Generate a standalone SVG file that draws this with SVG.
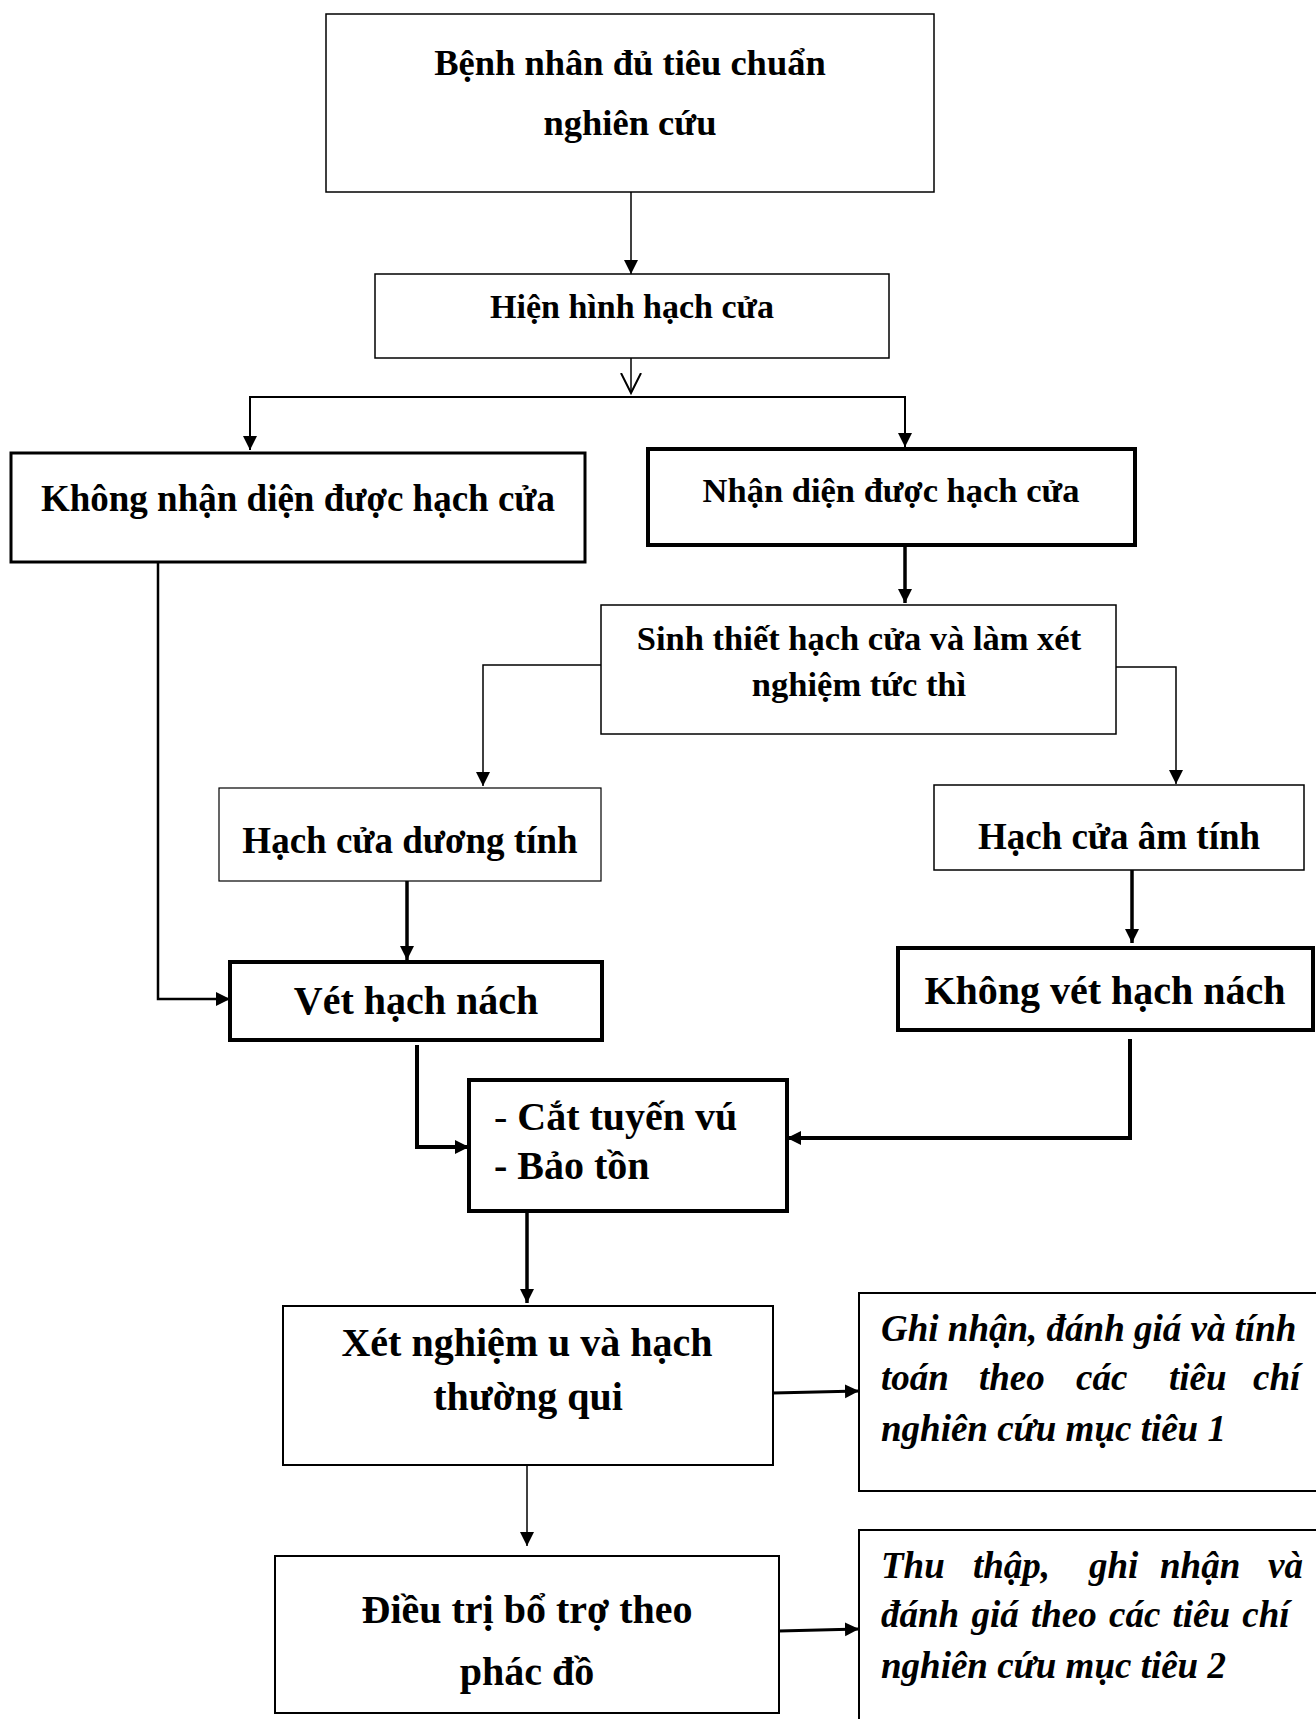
<svg xmlns="http://www.w3.org/2000/svg" width="1316" height="1719" viewBox="0 0 1316 1719">
<style>
.b{fill:#fff;stroke:#000}
.t{font-family:"Liberation Serif","Times New Roman",serif;font-weight:bold;fill:#000}
.i{font-style:italic}
.c{text-anchor:middle}
.l{fill:none;stroke:#000}
</style>
<defs>
<marker id="ah" markerUnits="userSpaceOnUse" markerWidth="16" markerHeight="16" refX="14" refY="7" orient="auto" viewBox="0 0 16 14"><path d="M0,0 L14,7 L0,14 Z" fill="#000"/></marker>
<marker id="ao" markerUnits="userSpaceOnUse" markerWidth="24" markerHeight="24" refX="20" refY="10" orient="auto" viewBox="0 0 24 20"><path d="M0,0 L20,10 L0,20" fill="none" stroke="#000" stroke-width="2"/></marker>
</defs>
<g id="connectors">
<line class="l" x1="631" y1="192" x2="631" y2="274" stroke-width="1.5" marker-end="url(#ah)"/>
<line class="l" x1="631" y1="358" x2="631" y2="393" stroke-width="1.5" marker-end="url(#ao)"/>
<path class="l" d="M250,450 V397 H905 V447" stroke-width="2" marker-end="url(#ah)"/>
<path class="l" d="M250,397 V450" stroke-width="2" marker-end="url(#ah)"/>
<line class="l" x1="905" y1="545" x2="905" y2="603" stroke-width="3.5" marker-end="url(#ah)"/>
<path class="l" d="M601,665 H483 V786" stroke-width="1.5" marker-end="url(#ah)"/>
<path class="l" d="M1116,667 H1176 V784" stroke-width="1.5" marker-end="url(#ah)"/>
<line class="l" x1="407" y1="881" x2="407" y2="960" stroke-width="3.5" marker-end="url(#ah)"/>
<line class="l" x1="1132" y1="870" x2="1132" y2="943" stroke-width="3.5" marker-end="url(#ah)"/>
<path class="l" d="M158,562 V999 H230" stroke-width="2.5" marker-end="url(#ah)"/>
<path class="l" d="M417,1045 V1147 H469" stroke-width="4" marker-end="url(#ah)"/>
<path class="l" d="M1130,1039 V1138 H787" stroke-width="4" marker-end="url(#ah)"/>
<line class="l" x1="527" y1="1211" x2="527" y2="1303" stroke-width="3.5" marker-end="url(#ah)"/>
<line class="l" x1="527" y1="1465" x2="527" y2="1546" stroke-width="1.5" marker-end="url(#ah)"/>
<line class="l" x1="773" y1="1393" x2="859" y2="1391" stroke-width="3" marker-end="url(#ah)"/>
<line class="l" x1="779" y1="1631" x2="859" y2="1629" stroke-width="3" marker-end="url(#ah)"/>
</g>
<g id="n1"><rect class="b" x="326" y="14" width="608" height="178" stroke-width="1.5"/>
<text class="t c" x="630" y="75" font-size="36.5">Bệnh nhân đủ tiêu chuẩn</text>
<text class="t c" x="630" y="135" font-size="36.5">nghiên cứu</text></g>
<g id="n2"><rect class="b" x="375" y="274" width="514" height="84" stroke-width="1.5"/>
<text class="t c" x="632" y="318" font-size="34">Hiện hình hạch cửa</text></g>
<g id="n3"><rect class="b" x="11" y="453" width="574" height="109" stroke-width="3"/>
<text class="t c" x="298" y="511" font-size="37">Không nhận diện được hạch cửa</text></g>
<g id="n4"><rect class="b" x="648" y="449" width="487" height="96" stroke-width="4"/>
<text class="t c" x="891" y="502" font-size="34.5">Nhận diện được hạch cửa</text></g>
<g id="n5"><rect class="b" x="601" y="605" width="515" height="129" stroke-width="1.5"/>
<text class="t c" x="859" y="650" font-size="34.5">Sinh thiết hạch cửa và làm xét</text>
<text class="t c" x="859" y="696" font-size="34.5">nghiệm tức thì</text></g>
<g id="n6"><rect class="b" x="219" y="788" width="382" height="93" stroke-width="1.2"/>
<text class="t c" x="410" y="853" font-size="37">Hạch cửa dương tính</text></g>
<g id="n7"><rect class="b" x="934" y="785" width="370" height="85" stroke-width="1.5"/>
<text class="t c" x="1119" y="849" font-size="37">Hạch cửa âm tính</text></g>
<g id="n8"><rect class="b" x="230" y="962" width="372" height="78" stroke-width="4"/>
<text class="t c" x="416" y="1014" font-size="40">Vét hạch nách</text></g>
<g id="n9"><rect class="b" x="898" y="948" width="415" height="82" stroke-width="4"/>
<text class="t c" x="1105" y="1004" font-size="40">Không vét hạch nách</text></g>
<g id="n10"><rect class="b" x="469" y="1080" width="318" height="131" stroke-width="4"/>
<text class="t" x="494" y="1130" font-size="40"><tspan font-weight="normal">-</tspan> Cắt tuyến vú</text>
<text class="t" x="494" y="1179" font-size="40">- Bảo tồn</text></g>
<g id="n11"><rect class="b" x="283" y="1306" width="490" height="159" stroke-width="2"/>
<text class="t c" x="527" y="1356" font-size="40">Xét nghiệm u và hạch</text>
<text class="t c" x="528" y="1410" font-size="40">thường qui</text></g>
<g id="n12"><rect class="b" x="275" y="1556" width="504" height="157" stroke-width="2"/>
<text class="t c" x="527" y="1623" font-size="40">Điều trị bổ trợ theo</text>
<text class="t c" x="527" y="1685" font-size="40">phác đồ</text></g>
<g id="n13"><rect class="b" x="859" y="1293" width="470" height="198" stroke-width="2"/>
<text class="t i" x="881" y="1341" font-size="37">Ghi nhận, đánh giá và tính</text>
<text class="t i" y="1390" font-size="37"><tspan x="881">toán</tspan> <tspan x="979">theo</tspan> <tspan x="1076">các</tspan> <tspan x="1169">tiêu</tspan> <tspan x="1253">chí</tspan></text>
<text class="t i" x="881" y="1441" font-size="37">nghiên cứu mục tiêu 1</text></g>
<g id="n14"><rect class="b" x="859" y="1530" width="470" height="200" stroke-width="2"/>
<text class="t i" y="1578" font-size="37"><tspan x="881">Thu</tspan> <tspan x="973">thập,</tspan> <tspan x="1089">ghi</tspan> <tspan x="1160">nhận</tspan> <tspan x="1268">và</tspan></text>
<text class="t i" x="881" y="1627" font-size="37" word-spacing="3">đánh giá theo các tiêu chí</text>
<text class="t i" x="881" y="1678" font-size="37">nghiên cứu mục tiêu 2</text></g>
</svg>
